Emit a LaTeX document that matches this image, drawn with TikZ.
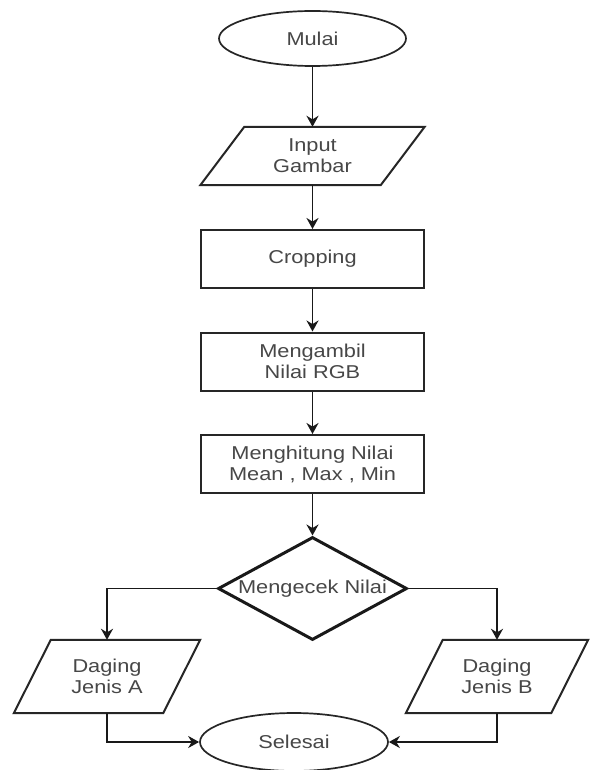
\documentclass[tikz,border=0pt]{standalone}
\usepackage{fontspec}
\setmainfont[FakeStretch=1.17]{Liberation Sans}
\usetikzlibrary{shapes.geometric,arrows.meta}
\begin{document}
\begin{tikzpicture}[x=1pt,y=-1pt,
  every node/.style={font=\fontsize{18.6}{21}\selectfont, text=black!72, align=center, inner sep=0pt},
  box/.style={draw=black!85, line width=2pt, minimum width=223pt, minimum height=58pt},
  io/.style={},
  ioline/.style={draw=black!85, line width=2pt, line join=miter},
  term/.style={ellipse, draw=black!85, line width=1.7pt},
  link/.style={draw=black!90, line width=1.9pt, -{Stealth[length=11pt,width=12pt]}}
]
\useasboundingbox[fill=white] (0,0) rectangle (589,770);

\node[term, minimum width=187pt, minimum height=55pt] (mulai) at (312.5,38.5) {Mulai};
\node[io, minimum width=224pt, minimum height=58pt] (input) at (312.5,156) {Input\\Gambar};
\draw[ioline] ([xshift=44pt]input.north west) -- (input.north east) -- ([xshift=-44pt]input.south east) -- (input.south west) -- cycle;
\node[box] (crop) at (312.5,259) {Cropping};
\node[box] (rgb) at (312.5,361.5) {Mengambil\\Nilai RGB};
\node[box] (hit) at (312.5,464) {Menghitung Nilai\\Mean , Max , Min};
\node[diamond, draw=black!90, line width=3pt, minimum width=189pt, minimum height=103pt, aspect=1.83] (cek) at (312.5,588.5) {Mengecek Nilai};
\node[io, minimum width=186pt, minimum height=73pt] (a) at (107,676.5) {Daging\\Jenis A};
\draw[ioline] ([xshift=37pt]a.north west) -- (a.north east) -- ([xshift=-37pt]a.south east) -- (a.south west) -- cycle;
\node[io, minimum width=182pt, minimum height=73pt] (b) at (497,676.5) {Daging\\Jenis B};
\draw[ioline] ([xshift=37pt]b.north west) -- (b.north east) -- ([xshift=-37pt]b.south east) -- (b.south west) -- cycle;
\node[term, minimum width=188pt, minimum height=58pt] (sel) at (294,742) {Selesai};

\draw[link] (mulai.south) -- (input.north);
\draw[link] (input.south) -- (crop.north);
\draw[link] (crop.south) -- (rgb.north);
\draw[link] (rgb.south) -- (hit.north);
\draw[link] (hit.south) -- (cek.north);
\draw[link] (cek.west) -| (a.north);
\draw[link] (cek.east) -| (b.north);
\draw[link] (a.south) |- (sel.west);
\draw[link] (b.south) |- (sel.east);
\end{tikzpicture}
\end{document}
